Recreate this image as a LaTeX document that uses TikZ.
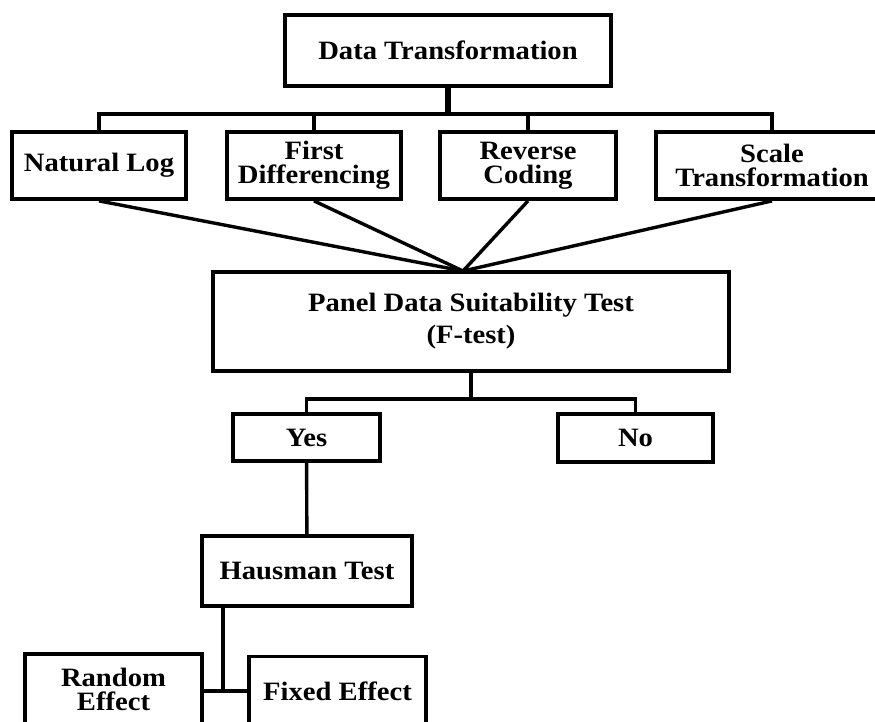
\documentclass[tikz,border=0pt]{standalone}
\usepackage{fontspec}
\setmainfont{Liberation Serif}[FakeStretch=1.08]

\begin{document}
\begin{tikzpicture}[x=1pt, y=-1pt]
            \tikzset{box/.style={draw, line width=3.8pt, inner sep=0pt, align=center, font=\bfseries\fontsize{26.5}{24}\selectfont}}
            \tikzset{link/.style={line width=3.4pt}}
            \tikzset{trunk/.style={line width=5.5pt}}
            \useasboundingbox (0,0) rectangle (875,721);
            \clip (0,0) rectangle (875,721);

            \node[box, minimum width=326pt, minimum height=71pt] (dt) at (448,50.5) {Data Transformation};
            \node[box, minimum width=174pt, minimum height=67pt] (nl) at (99,165.5) {Natural Log};
            \node[box, minimum width=174pt, minimum height=67pt] (fd) at (314,165.5) {First\\Differencing};
            \node[box, minimum width=176pt, minimum height=67pt] (rc) at (528,165.5) {Reverse\\Coding};
            \node[box, minimum width=232pt, minimum height=67pt] (st) at (772,165.5) {Scale\\Transformation};
            \node[box, minimum width=516pt, minimum height=99pt, font=\bfseries\fontsize{26.5}{32}\selectfont] (panel) at (471,321.5) {Panel Data Suitability Test\\(F-test)};
            \node[box, minimum width=147pt, minimum height=47pt] (yes) at (306.5,437.5) {Yes};
            \node[box, minimum width=155pt, minimum height=48pt] (no) at (635.5,438) {No};
            \node[box, minimum width=210pt, minimum height=70pt] (haus) at (307,571) {Hausman Test};
            \node[box, minimum width=177pt, minimum height=70pt] (re) at (113.5,689) {Random\\Effect};
            \node[box, minimum width=177pt, minimum height=70pt] (fe) at (337.5,691.5) {Fixed Effect};

            \coordinate (split) at (448,114);
            \coordinate (merge) at (463,271);
            \coordinate (fork) at (471,399);
            \coordinate (hj) at (223,691);

            % top tree
            \draw[trunk] (dt) -- (split);
            \draw[link] (nl.north) |- (split) -| (st.north);
            \draw[link] (fd.north) -- (fd.north |- split);
            \draw[link] (rc.north) -- (rc.north |- split);
            \foreach \n in {nl, fd, rc, st}
                \draw[link] (\n.south) -- (merge);

            % test outcomes
            \draw[link] (panel) -- (fork);
            \draw[link] (yes.north) |- (fork) -| (no.north);
            \draw[link] (yes) -- (haus);
            \draw[link] (haus.south -| hj) -- (hj);
            \draw[link] (re.east |- hj) -- (fe.west |- hj);
        \end{tikzpicture}
\end{document}
